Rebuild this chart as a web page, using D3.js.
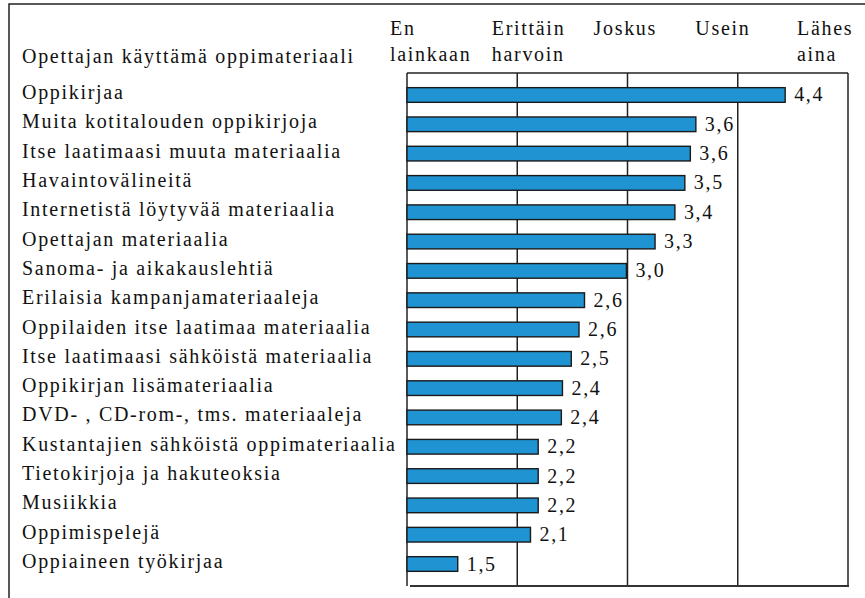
<!DOCTYPE html>
<html lang="fi">
<head>
<meta charset="UTF-8">
<title>Opettajan käyttämä oppimateriaali</title>
<style>
  body { margin: 0; background: #fff; }
  text { font-family: "Liberation Serif", "Times New Roman", serif; fill: #111; letter-spacing: 1.7px; }
</style>
</head>
<body>
<div id="chart"></div>
<script src="https://d3js.org/d3.v7.min.js"></script>
<script>
// data
const categories = [
  "Oppikirjaa",
  "Muita kotitalouden oppikirjoja",
  "Itse laatimaasi muuta materiaalia",
  "Havaintovälineitä",
  "Internetistä löytyvää materiaalia",
  "Opettajan materiaalia",
  "Sanoma- ja aikakauslehtiä",
  "Erilaisia kampanjamateriaaleja",
  "Oppilaiden itse laatimaa materiaalia",
  "Itse laatimaasi sähköistä materiaalia",
  "Oppikirjan lisämateriaalia",
  "DVD- , CD-rom-, tms. materiaaleja",
  "Kustantajien sähköistä oppimateriaalia",
  "Tietokirjoja ja hakuteoksia",
  "Musiikkia",
  "Oppimispelejä",
  "Oppiaineen työkirjaa"
];
const values = [4.43, 3.62, 3.57, 3.52, 3.43, 3.25, 2.99, 2.61, 2.56, 2.49, 2.41, 2.40, 2.19, 2.19, 2.19, 2.12, 1.46];
const scaleLabels = [["En", "lainkaan"], ["Erittäin", "harvoin"], ["Joskus"], ["Usein"], ["Lähes", "aina"]];
const title = "Opettajan käyttämä oppimateriaali";

const W = 865, H = 598;
const plot = { left: 407, right: 848, top: 73, bottom: 586 };
const fs = 20;

const svg = d3.select("#chart").append("svg")
  .attr("width", W)
  .attr("height", H);

// outer frame (top + left only)
svg.append("path")
  .attr("d", `M9,${H} V4 H${W}`)
  .attr("fill", "none")
  .attr("stroke", "#222")
  .attr("stroke-width", 1.5);

const x = d3.scaleLinear().domain([1, 5]).range([plot.left, plot.right]);
const y = d3.scaleBand().domain(categories).range([plot.top, plot.bottom]).padding(0.5);

// vertical grid lines
svg.append("g")
  .selectAll("line")
  .data(x.ticks(4))
  .join("line")
  .attr("x1", d => x(d)).attr("x2", d => x(d))
  .attr("y1", plot.top).attr("y2", plot.bottom)
  .attr("stroke", "#222")
  .attr("stroke-width", 1.5);

// top and bottom lines
svg.append("line")
  .attr("x1", plot.left).attr("x2", plot.right)
  .attr("y1", plot.top).attr("y2", plot.top)
  .attr("stroke", "#222").attr("stroke-width", 1.5);
svg.append("line")
  .attr("x1", plot.left + 3).attr("x2", plot.right + 1)
  .attr("y1", plot.bottom).attr("y2", plot.bottom)
  .attr("stroke", "#333").attr("stroke-width", 2.2);

// bars
svg.append("g")
  .selectAll("rect")
  .data(values)
  .join("rect")
  .attr("x", x(1))
  .attr("y", (d, i) => y(categories[i]))
  .attr("width", d => x(d) - x(1))
  .attr("height", y.bandwidth())
  .attr("fill", "#2094d2")
  .attr("stroke", "#1a1a1a")
  .attr("stroke-width", 1.4);

// value labels
const fmt = d3.format(".1f");
svg.append("g")
  .selectAll("text")
  .data(values)
  .join("text")
  .attr("x", d => x(d) + 9)
  .attr("y", (d, i) => y(categories[i]) + y.bandwidth() / 2 + 6.5)
  .attr("font-size", fs)
  .text(d => fmt(d).replace(".", ","));

// category labels
svg.append("g")
  .selectAll("text")
  .data(categories)
  .join("text")
  .attr("x", 22)
  .attr("y", d => y(d) + y.bandwidth() / 2 + 4)
  .attr("font-size", fs)
  .text(d => d);

// title
svg.append("text")
  .attr("x", 22)
  .attr("y", 63)
  .attr("font-size", fs)
  .text(title);

// scale labels above the plot (left aligned)
const hx = d3.scalePoint().domain(d3.range(scaleLabels.length)).range([390, 797]);
svg.append("g")
  .selectAll("text")
  .data(scaleLabels)
  .join("text")
  .attr("font-size", fs)
  .attr("transform", (d, i) => `translate(${hx(i)},35)`)
  .selectAll("tspan")
  .data(d => d)
  .join("tspan")
  .attr("x", 0)
  .attr("dy", (d, i) => i === 0 ? 0 : 26)
  .text(d => d);
</script>
</body>
</html>
